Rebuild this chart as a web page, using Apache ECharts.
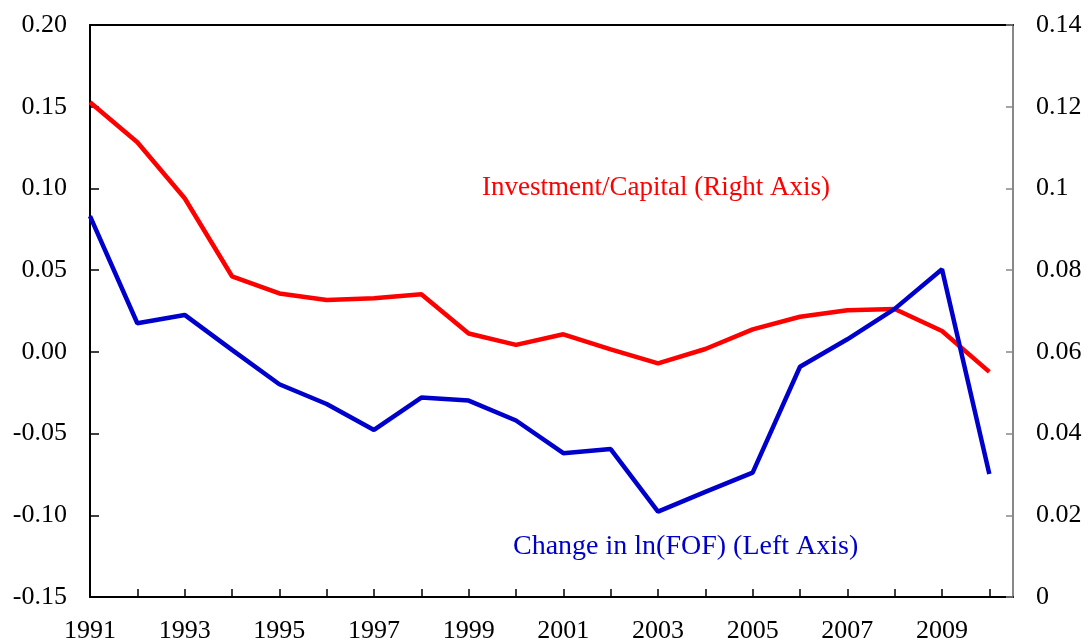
<!DOCTYPE html>
<html lang="en">
<head>
    <meta charset="UTF-8">
    <title>FOF and Investment/Capital</title>
    <script src="https://cdn.jsdelivr.net/npm/echarts@6/dist/echarts.min.js"></script>
    <style>
        html, body { margin: 0; padding: 0; background: #fff; }
        #chart { width: 1089px; height: 640px; }
    </style>
</head>
<body>
<div id="chart"></div>
<script type="text/javascript">
    // years on the x axis
    var years = [1991, 1992, 1993, 1994, 1995, 1996, 1997, 1998, 1999, 2000,
                 2001, 2002, 2003, 2004, 2005, 2006, 2007, 2008, 2009, 2010];
    // change in ln(FOF), left axis
    var fofChange = [0.083, 0.0175, 0.0226, 0.0012, -0.0198, -0.0319, -0.0478, -0.028, -0.0298, -0.042,
                     -0.062, -0.0595, -0.0978, -0.0857, -0.0739, -0.0091, 0.0077, 0.0263, 0.0506, -0.0747];
    // investment / capital, right axis
    var invCapital = [0.1211, 0.1113, 0.0976, 0.0785, 0.0743, 0.0727, 0.0731, 0.0741, 0.0645, 0.0617,
                      0.0643, 0.0606, 0.0572, 0.0607, 0.0655, 0.0686, 0.0702, 0.0705, 0.0651, 0.0551];

    var redLabel = 'Investment/Capital (Right Axis)';
    var blueLabel = 'Change in ln(FOF) (Left Axis)';

    var font = 'Liberation Serif';
    var chart = echarts.init(document.getElementById('chart'));

    function pairs(vals) {
        return years.map(function (y, i) { return [y, vals[i]]; });
    }

    chart.setOption({
        animation: false,
        textStyle: { fontFamily: font },
        grid: { left: 90, right: 76, top: 25, bottom: 43, containLabel: false, outerBoundsMode: 'none' },
        xAxis: [{
            type: 'value',
            min: 1991,
            max: 2010.5,
            interval: 1,
            splitLine: { show: false },
            axisLine: { onZero: false, lineStyle: { color: '#000', width: 2 } },
            axisTick: { inside: true, length: 8, lineStyle: { color: '#000', width: 1.5 } },
            axisLabel: {
                color: '#000', fontSize: 26, fontFamily: font, margin: 21,
                showMaxLabel: false,
                formatter: function (v) {
                    return (v % 2 === 1) ? String(v) : '';
                }
            }
        }, {
            // top border only
            type: 'value', position: 'top', min: 1991, max: 2010.5,
            axisLine: { show: true, onZero: false, lineStyle: { color: '#000', width: 2 } },
            axisTick: { show: false }, axisLabel: { show: false }, splitLine: { show: false }
        }],
        yAxis: [{
            type: 'value',
            min: -0.15,
            max: 0.20,
            interval: 0.05,
            splitLine: { show: false },
            axisLine: { show: true, onZero: false, lineStyle: { color: '#000', width: 2 } },
            axisTick: { show: true, inside: true, length: 9, lineStyle: { color: '#000', width: 1.5 } },
            axisLabel: {
                color: '#000', fontSize: 26, fontFamily: font, margin: 23,
                formatter: function (v) { return v.toFixed(2); }
            }
        }, {
            type: 'value',
            min: 0,
            max: 0.14,
            interval: 0.02,
            position: 'right',
            splitLine: { show: false },
            axisLine: { show: true, onZero: false, lineStyle: { color: '#888', width: 2 } },
            axisTick: { show: true, inside: true, length: 7, lineStyle: { color: '#888', width: 1.5 } },
            axisLabel: {
                color: '#000', fontSize: 26, fontFamily: font, margin: 23,
                formatter: function (v) { return String(parseFloat(v.toFixed(2))); }
            }
        }],
        graphic: [{
            type: 'text', x: 482, y: 188,
            style: { text: redLabel, fill: '#ff0000', font: '27px "Liberation Serif"', verticalAlign: 'middle' }
        }, {
            type: 'text', x: 513, y: 547,
            style: { text: blueLabel, fill: '#0000cc', font: '28px "Liberation Serif"', verticalAlign: 'middle' }
        }],
        series: [{
            name: 'Investment/Capital',
            type: 'line',
            yAxisIndex: 1,
            data: pairs(invCapital),
            showSymbol: false,
            lineStyle: { color: '#ff0000', width: 4.5 },
            z: 3
        }, {
            name: 'Change in ln(FOF)',
            type: 'line',
            yAxisIndex: 0,
            data: pairs(fofChange),
            showSymbol: false,
            lineStyle: { color: '#0000cc', width: 4.5 },
            z: 4
        }]
    });
</script>
</body>
</html>
